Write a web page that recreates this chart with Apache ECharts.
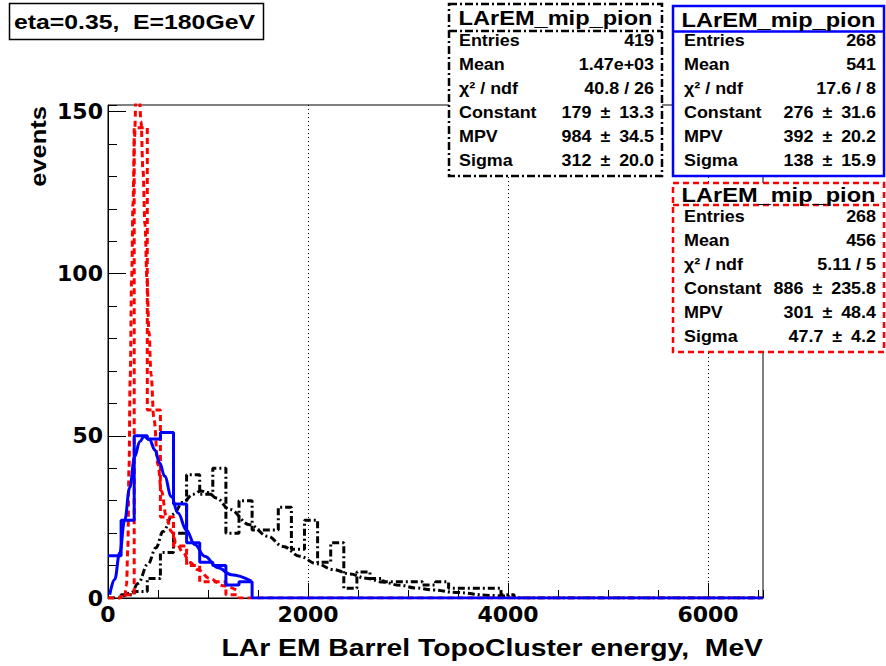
<!DOCTYPE html>
<html>
<head>
<meta charset="utf-8">
<script src="https://cdn.jsdelivr.net/npm/echarts@6/dist/echarts.min.js"></script>
<style>
  html, body { margin: 0; padding: 0; background: #ffffff; }
  #chart { width: 886px; height: 666px; }
</style>
</head>
<body>
<div id="chart"></div>
<script>
// Histogram binning: 50 bins over 0–6550 MeV
const binWidth = 131;
const nBins = 50;

// Bin contents (events per bin), bins beyond the listed ones are empty
const blackCounts = [0, 1, 2, 6, 14, 20, 38, 32, 40, 20, 30, 21, 21, 28, 15, 24, 11, 17, 3, 8,
                     6, 5, 5, 5, 4, 5, 3, 3, 3, 3, 1];
const redCounts   = [0, 1, 145, 58, 25, 16, 10, 5, 5, 1];
const blueCounts  = [13, 24, 50, 49, 51, 29, 17, 11, 10, 4, 5];

// Landau fit curves: [energy MeV, events]
const blackFit = [[150, 0.5], [234, 1.6], [300, 4.5], [400, 10.5], [480, 15.5], [550, 20.5], [650, 25.8],
                  [750, 29.5], [850, 32], [930, 33], [1000, 32.5], [1084, 30.8], [1217, 27.3], [1417, 22.6],
                  [1600, 19], [1750, 15.9], [1917, 12.9], [2083, 10.6], [2250, 8.8], [2420, 7.4], [2580, 6.1],
                  [2750, 4.9], [2920, 3.9], [3083, 3.1], [3250, 2.5], [3483, 1.7], [3817, 0.8], [4017, 0.5]];
const redFit = [[170, 0.5], [185, 4], [198, 15], [210, 40], [222, 68], [237, 99], [250, 122], [265, 142],
                [280, 154], [295, 160], [310, 157], [330, 147], [350, 132], [370, 115], [390, 98], [410, 82],
                [430, 69], [460, 55], [500, 41], [534, 33], [584, 25], [634, 20.5], [684, 17], [750, 14],
                [817, 11], [900, 8.7], [1017, 6], [1150, 3.8], [1317, 1.9]];
const blueFit = [[17, 1], [67, 5.7], [117, 13.9], [167, 24], [217, 34], [267, 43.6], [317, 48.2], [360, 49.8],
                 [417, 48.8], [467, 45.7], [517, 41.6], [567, 37.5], [633, 31.3], [700, 26.2], [783, 21],
                 [867, 16.5], [967, 12.9], [1100, 9.3], [1233, 7.2], [1433, 5.2]];

// Axis ranges and ticks
const xMax = 6550, xMajor = 2000, xMinor = 500;
const yMax = 152, yMajor = 50, yMinor = 10;

// Statistics boxes
const boxTitle = 'LArEM_mip_pion';
const statLabels = ['Entries', 'Mean', 'χ² / ndf', 'Constant', 'MPV', 'Sigma'];
const blackStats = ['419', '1.47e+03', '40.8 / 26', '179 ± 13.3', '984 ± 34.5', '312 ± 20.0'];
const blueStats  = ['268', '541', '17.6 / 8', '276 ± 31.6', '392 ± 20.2', '138 ± 15.9'];
const redStats   = ['268', '456', '5.11 / 5', '886 ± 235.8', '301 ± 48.4', '47.7 ± 4.2'];

const headerText = 'eta=0.35,  E=180GeV';
const xTitle = 'LAr EM Barrel TopoCluster energy,  MeV';
const yTitle = 'events';

// Turn bin contents into an outline of steps
function histOutline(counts) {
  const pts = [];
  for (let k = 0; k < nBins; k++) {
    const v = k < counts.length ? counts[k] : 0;
    pts.push([k * binWidth, v], [(k + 1) * binWidth, v]);
  }
  return pts;
}

const TICKFONT = { fontFamily: '"DejaVu Sans", sans-serif', fontWeight: 'bold', fontSize: 22, color: '#000' };

function txt(x, y, text, align, size, sx) {
  return {
    type: 'text', x: x, y: y, scaleX: sx || 1.12, z: 110,
    style: {
      text: text, fill: '#000',
      font: 'bold ' + (size || 16) + 'px "Liberation Sans", Arial, sans-serif',
      textAlign: align, textVerticalAlign: 'middle'
    }
  };
}

// "±" values are typeset with wider spacing around the sign
function valueText(v) {
  return v.replace(' ± ', '\u2002±\u2002');
}

function statBox(x, y, w, h, sepY, rowY0, labelX, valueX, values, stroke, dash) {
  const els = [];
  els.push({
    type: 'rect', z: 100,
    shape: { x: x, y: y, width: w, height: h },
    style: { fill: '#fff', stroke: stroke, lineWidth: 2.5, lineDash: dash }
  });
  els.push({
    type: 'line', z: 101,
    shape: { x1: x, y1: sepY, x2: x + w, y2: sepY },
    style: { stroke: stroke, lineWidth: 2.5, lineDash: dash }
  });
  els.push(txt(x + w / 2, (y + sepY) / 2 + 1, boxTitle, 'center', 20, 1.18));
  for (let i = 0; i < statLabels.length; i++) {
    const yy = rowY0 + 24 * i;
    els.push(txt(labelX, yy, statLabels[i], 'left'));
    els.push(txt(valueX, yy, valueText(values[i]), 'right'));
  }
  return els;
}

const chart = echarts.init(document.getElementById('chart'), null, { renderer: 'svg' });

const graphics = [].concat(
  statBox(449, 4, 213, 172, 31, 41, 459, 654, blackStats, '#000', [8, 3, 2, 3]),
  statBox(673, 6, 211, 170, 31.5, 41, 684, 876, blueStats, '#0000ff', null),
  statBox(673, 183, 211, 169, 205, 217, 684, 876, redStats, '#ff0000', [6, 4]),
  [
    {
      type: 'rect', z: 100,
      shape: { x: 9.5, y: 3.5, width: 254, height: 36 },
      style: { fill: '#fff', stroke: '#000', lineWidth: 1.5 }
    },
    txt(14, 21.5, headerText, 'left', 21, 1.18),
    txt(763, 648, xTitle, 'right', 24, 1.18),
    {
      type: 'text', x: 38, y: 106, rotation: Math.PI / 2, scaleX: 1.16, z: 110,
      style: {
        text: yTitle, fill: '#000',
        font: 'bold 22px "Liberation Sans", Arial, sans-serif',
        textAlign: 'right', textVerticalAlign: 'middle'
      }
    }
  ]
);

function histSeries(name, counts, color, dash) {
  return {
    name: name, type: 'line', data: histOutline(counts),
    symbol: 'none', showSymbol: false, animation: false, clip: true,
    lineStyle: { color: color, width: 3, type: dash }
  };
}
function fitSeries(name, pts, color, dash) {
  return {
    name: name, type: 'line', data: pts, smooth: 0.4, smoothMonotone: 'x',
    symbol: 'none', showSymbol: false, animation: false, clip: true,
    lineStyle: { color: color, width: 3, type: dash }
  };
}

chart.setOption({
  backgroundColor: '#fff',
  animation: false,
  grid: {
    left: 108, top: 105, width: 655, height: 493,
    show: true, borderColor: '#000', borderWidth: 1, backgroundColor: 'transparent'
  },
  xAxis: [
    {
      type: 'value', min: 0, max: xMax, interval: xMajor, position: 'bottom',
      axisLine: { show: true, onZero: false, lineStyle: { color: '#000', width: 1 } },
      axisTick: { show: true, inside: true, length: 15, lineStyle: { color: '#000', width: 1 } },
      axisLabel: Object.assign({ margin: 5, showMaxLabel: false, formatter: v => String(v) }, TICKFONT),
      splitLine: { show: true, showMinLine: false, showMaxLine: false,
                   lineStyle: { color: '#000', width: 1, type: [1, 3] } }
    },
    {
      type: 'value', min: 0, max: xMax, interval: xMinor, position: 'bottom',
      axisLine: { show: false },
      axisTick: { show: true, inside: true, length: 8, lineStyle: { color: '#000', width: 1 } },
      axisLabel: { show: false },
      splitLine: { show: false }
    }
  ],
  yAxis: [
    {
      type: 'value', min: 0, max: yMax, interval: yMajor, position: 'left',
      axisLine: { show: true, onZero: false, lineStyle: { color: '#000', width: 1 } },
      axisTick: { show: true, inside: true, length: 18, lineStyle: { color: '#000', width: 1 } },
      axisLabel: Object.assign({ margin: 5, showMaxLabel: false, formatter: v => String(v) }, TICKFONT),
      splitLine: { show: false }
    },
    {
      type: 'value', min: 0, max: yMax, interval: yMinor, position: 'left',
      axisLine: { show: false },
      axisTick: { show: true, inside: true, length: 9, lineStyle: { color: '#000', width: 1 } },
      axisLabel: { show: false },
      splitLine: { show: false }
    }
  ],
  series: [
    histSeries('black', blackCounts, '#000', [7, 3, 2, 3]),
    fitSeries('black fit', blackFit, '#000', [7, 3, 2, 3]),
    histSeries('red', redCounts, '#ff0000', [6, 4]),
    fitSeries('red fit', redFit, '#ff0000', [6, 4]),
    histSeries('blue', blueCounts, '#0000ff', 'solid'),
    fitSeries('blue fit', blueFit, '#0000ff', 'solid')
  ],
  graphic: { elements: graphics }
});
</script>
</body>
</html>
